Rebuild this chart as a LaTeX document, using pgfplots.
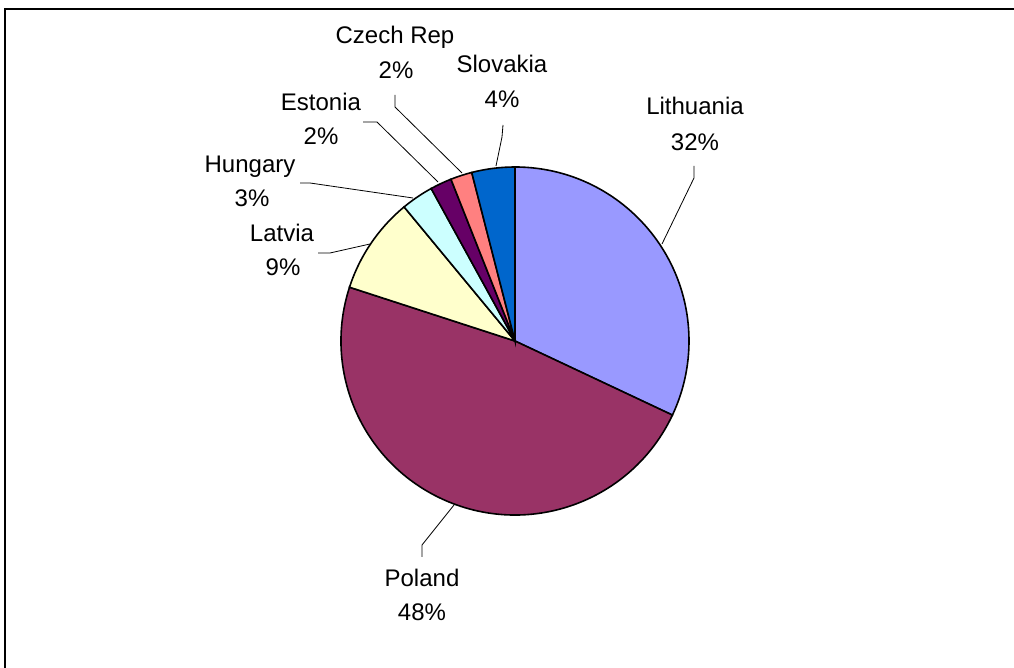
\documentclass[border=0pt]{standalone}
\usepackage{pgfplots}
\usepackage{pgfplotstable}
\pgfplotsset{compat=1.18}
\usepackage{fontspec}
\setmainfont{Liberation Sans}
% shares in percent, clockwise from 12 o'clock
\pgfplotstableread{
name      value
Lithuania 32
Poland    48
Latvia    9
Hungary   3
Estonia   2
CzechRep  2
Slovakia  4
}\shares
\definecolor{cLit}{HTML}{9999FF}
\definecolor{cPol}{HTML}{993366}
\definecolor{cLat}{HTML}{FFFFCC}
\definecolor{cHun}{HTML}{CCFFFF}
\definecolor{cEst}{HTML}{660066}
\definecolor{cCze}{HTML}{FF8080}
\definecolor{cSlo}{HTML}{0066CC}
\begin{document}
\begin{tikzpicture}[lbl/.style={anchor=base,inner sep=0pt,font=\fontsize{24bp}{28bp}\selectfont}]
\begin{axis}[scale only axis, width=1014bp, height=668bp,
  xmin=0, xmax=1014, ymin=0, ymax=668, hide axis, clip=false]
% frame
\draw[line width=2bp] (axis cs:5,0) -- (axis cs:5,659) -- (axis cs:1014,659);
% slices (angles = 90 - 3.6 * cumulative share)
\filldraw[fill=cLit, line width=1.6bp] (axis cs:515,327) -- ++(90:174bp) arc[start angle=90, end angle={90-3.6*32}, radius=174bp] -- cycle;
\filldraw[fill=cPol, line width=1.6bp] (axis cs:515,327) -- ++({90-3.6*32}:174bp) arc[start angle={90-3.6*32}, end angle={90-3.6*80}, radius=174bp] -- cycle;
\filldraw[fill=cLat, line width=1.6bp] (axis cs:515,327) -- ++({90-3.6*80}:174bp) arc[start angle={90-3.6*80}, end angle={90-3.6*89}, radius=174bp] -- cycle;
\filldraw[fill=cHun, line width=1.6bp] (axis cs:515,327) -- ++({90-3.6*89}:174bp) arc[start angle={90-3.6*89}, end angle={90-3.6*92}, radius=174bp] -- cycle;
\filldraw[fill=cEst, line width=1.6bp] (axis cs:515,327) -- ++({90-3.6*92}:174bp) arc[start angle={90-3.6*92}, end angle={90-3.6*94}, radius=174bp] -- cycle;
\filldraw[fill=cCze, line width=1.6bp] (axis cs:515,327) -- ++({90-3.6*94}:174bp) arc[start angle={90-3.6*94}, end angle={90-3.6*96}, radius=174bp] -- cycle;
\filldraw[fill=cSlo, line width=1.6bp] (axis cs:515,327) -- ++({90-3.6*96}:174bp) arc[start angle={90-3.6*96}, end angle={90-3.6*100}, radius=174bp] -- cycle;
% leader lines
\draw[line width=0.8bp] (axis cs:694,502) -- (axis cs:694,490) -- (axis cs:662,424);
\draw[line width=0.8bp] (axis cs:422,111) -- (axis cs:422,123) -- (axis cs:454,163);
\draw[line width=0.8bp] (axis cs:318,415) -- (axis cs:330,415) -- (axis cs:370,424);
\draw[line width=0.8bp] (axis cs:300,485) -- (axis cs:310,485) -- (axis cs:413,470);
\draw[line width=0.8bp] (axis cs:363,546) -- (axis cs:377,546) -- (axis cs:438,486);
\draw[line width=0.8bp] (axis cs:395,573) -- (axis cs:395,561) -- (axis cs:462,495);
\draw[line width=0.8bp] (axis cs:503,543) -- (axis cs:502,531) -- (axis cs:496,502);
% labels
\node[lbl] at (axis cs:695,553) {Lithuania};
\node[lbl] at (axis cs:695,517) {32\%};
\node[lbl] at (axis cs:422,81) {Poland};
\node[lbl] at (axis cs:422,47) {48\%};
\node[lbl] at (axis cs:282,426) {Latvia};
\node[lbl] at (axis cs:283,392) {9\%};
\node[lbl] at (axis cs:250,495) {Hungary};
\node[lbl] at (axis cs:252,461) {3\%};
\node[lbl] at (axis cs:321,557) {Estonia};
\node[lbl] at (axis cs:321,523) {2\%};
\node[lbl] at (axis cs:395,624) {Czech Rep};
\node[lbl] at (axis cs:396,589) {2\%};
\node[lbl] at (axis cs:502,595) {Slovakia};
\node[lbl] at (axis cs:502,560) {4\%};
\end{axis}
\pgfresetboundingbox
\path[use as bounding box] (0,0) rectangle (1014bp,668bp);
\end{tikzpicture}
\end{document}
